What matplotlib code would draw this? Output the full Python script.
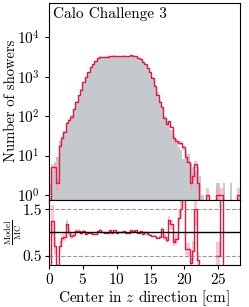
import matplotlib
matplotlib.use('Agg')
import matplotlib.pyplot as plt
import numpy as np

plt.rcParams['font.family'] = 'serif'
plt.rcParams['font.serif'] = ['cmr10']
plt.rcParams['mathtext.fontset'] = 'cm'
plt.rcParams['axes.formatter.use_mathtext'] = True

# binning of the centre of energy in z (cm)
edges = np.linspace(0, 28.15, 81)

# MC (Geant4) counts per bin
mc_counts = np.array([
    2, 4, 7, 9, 24, 32, 43, 58, 78, 105,
    155, 225, 330, 480, 700, 1000, 1350, 1750, 2150, 2550,
    2850, 3050, 3150, 3200, 3250, 3250, 3300, 3280, 3300, 3320,
    3340, 3350, 3330, 3350, 3340, 3300, 3200, 3050, 2800, 2450,
    2050, 1700, 1350, 1000, 630, 400, 250, 160, 100, 75,
    58, 45, 35, 27, 16, 14, 8, 14, 11, 6,
    5, 4, 5, 3, 1, 0, 0, 0, 0, 0,
    2, 2, 0, 2, 0, 0, 2, 0, 0, 0])

# generative model counts per bin
model_counts = np.array([
    0, 5, 5, 2, 17, 28, 39, 68, 78, 96,
    147, 234, 340, 470, 721, 970, 1330, 1724, 2064, 2448,
    2907, 3233, 3150, 3136, 3218, 3413, 3250, 3444, 3250, 3320,
    3340, 3417, 3297, 3317, 3507, 3432, 3360, 3004, 2856, 2352,
    2050, 1649, 1283, 920, 580, 352, 225, 170, 90, 63,
    73, 53, 28, 23, 21, 21, 16, 9, 7, 2,
    3, 6, 2, 0, 0, 0, 1, 0, 0, 0,
    1, 1, 1, 0, 0, 0, 0, 0, 0, 1])

grey = '#c5c9cd'
red = '#e3173f'
pink = '#f4a0ae'

fig = plt.figure(figsize=(2.49, 3.07), dpi=100)
ax = fig.add_axes([0.197, 0.349, 0.765, 0.642])
rax = fig.add_axes([0.197, 0.137, 0.765, 0.212])

# main panel
err = 0.5 * np.sqrt(model_counts)
ax.stairs(mc_counts, edges, fill=True, color=grey, lw=0)
ax.stairs(model_counts + err, edges, baseline=model_counts - err, fill=True,
          color=pink, alpha=0.6, lw=0)
ax.stairs(model_counts, edges, color=red, lw=1.0)
ax.set_yscale('log')
ax.set_xlim(edges[0], edges[-1])
ax.set_ylim(0.75, 7.5e4)
ax.set_yticks([1, 10, 100, 1000, 10000])
ax.yaxis.set_minor_locator(matplotlib.ticker.NullLocator())
ax.tick_params(labelbottom=False, labelsize=11, length=3)
ax.set_ylabel('Number of showers', fontsize=10.5)
ax.yaxis.set_label_coords(-0.165, 0.5)
ax.text(0.022, 0.978, 'Calo Challenge 3', transform=ax.transAxes,
        ha='left', va='top', fontsize=11)

# ratio panel
with np.errstate(divide='ignore', invalid='ignore'):
    ratio = model_counts / mc_counts
    rerr = 0.6 * np.sqrt(model_counts) / mc_counts
ratio[np.isinf(ratio)] = 10.0
rerr[~np.isfinite(rerr)] = 0.0
r_step = np.append(ratio, ratio[-1])
e_step = np.append(rerr, rerr[-1])
rax.fill_between(edges, r_step - e_step, r_step + e_step, step='post',
                 color=pink, alpha=0.6, lw=0)
rax.step(edges, r_step, where='post', color=red, lw=1.0)
rax.axhline(1.0, color='black', lw=1.0)
for yv in (0.5, 1.5):
    rax.axhline(yv, color='grey', ls='--', lw=0.8, alpha=0.8)
rax.set_xlim(edges[0], edges[-1])
rax.set_ylim(0.3, 1.7)
rax.set_yticks([0.5, 1.5])
rax.set_yticklabels(['0.5', '1.5'])
rax.set_xticks([0, 5, 10, 15, 20, 25])
rax.tick_params(labelsize=11, length=3, pad=2)
rax.set_ylabel(r'$\frac{\mathrm{Model}}{\mathrm{MC}}$', fontsize=9)
rax.yaxis.set_label_coords(-0.13, 0.5)
rax.set_xlabel(r'Center in $z$ direction [cm]', fontsize=11, labelpad=1)

fig.savefig('out.png', dpi=100)
